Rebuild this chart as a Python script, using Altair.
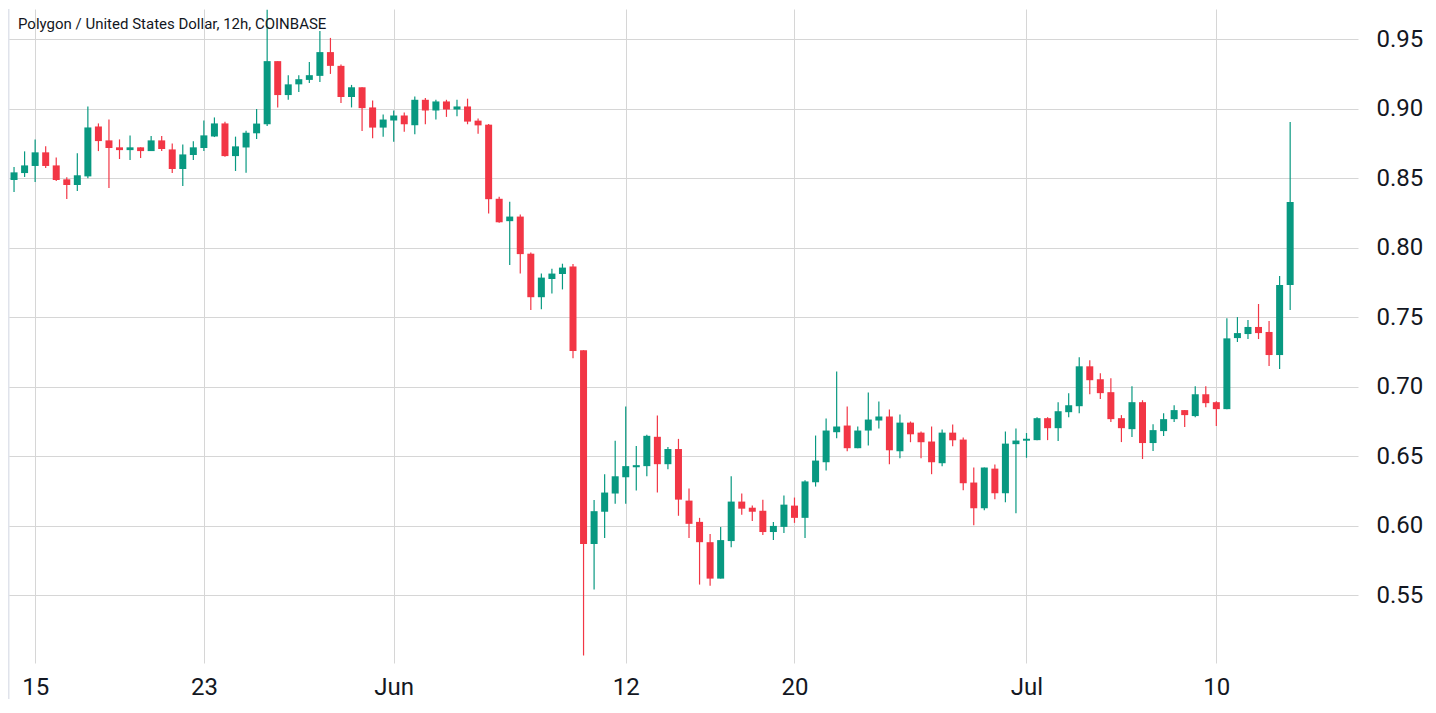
import altair as alt
import pandas as pd

# 12h candles, Polygon / USD (COINBASE), first candle 2023-05-14 00:00
start = "2023-05-14 00:00"
opens = [
    .8488, .8538, .8589, .8687, .8593, .8493, .8452, .8514, .8873, .8773,
    .8723, .8703, .8723, .8696, .8773, .8708, .8567, .8668, .8718, .8801,
    .8895, .8660, .8722, .8824, .8889, .9343, .9099, .9176, .9208, .9237,
    .9408, .9309, .9085, .9155, .9010, .8865, .8916, .8952, .8882, .9065,
    .8988, .9053, .8995, .9017, .8915, .8886, .8353, .8192, .8225, .7958,
    .7645, .7776, .7812, .7866, .7263, .5870, .6102, .6233, .6350, .6422,
    .6430, .6641, .6444, .6553, .6182, .6029, .5883, .5621, .5891, .6175,
    .6131, .6109, .5956, .5993, .6146, .6058, .6314, .6458, .6674, .6722,
    .6559, .6686, .6758, .6787, .6537, .6743, .6671, .6607, .6451, .6671,
    .6621, .6312, .6127, .6412, .6235, .6588, .6613, .6617, .6775, .6703,
    .6818, .6861, .7148, .7055, .6962, .6775, .6696, .6890, .6596, .6682,
    .6768, .6833, .6790, .6947, .6890, .6840, .7351, .7380, .7431, .7395,
    .7229, .7733,
]
highs = [
    .8582, .8694, .8780, .8730, .8650, .8507, .8680, .9017, .8895, .8923,
    .8780, .8809, .8723, .8804, .8804, .8751, .8744, .8766, .8916, .8938,
    .8907, .8800, .8842, .8998, .9713, .9343, .9242, .9242, .9336, .9560,
    .9510, .9319, .9172, .9155, .9060, .8959, .8988, .8973, .9089, .9077,
    .9065, .9065, .9065, .9073, .8930, .8890, .8368, .8332, .8240, .7966,
    .7815, .7850, .7886, .7884, .7263, .6186, .6371, .6612, .6859, .6575,
    .6655, .6794, .6568, .6626, .6269, .6058, .5942, .5993, .6357, .6233,
    .6146, .6189, .6029, .6218, .6204, .6328, .6650, .6772, .7110, .6859,
    .6715, .6959, .6894, .6837, .6801, .6751, .6679, .6715, .6693, .6729,
    .6636, .6420, .6420, .6441, .6679, .6700, .6668, .6782, .6782, .6890,
    .6955, .7213, .7191, .7098, .7062, .6797, .7005, .6904, .6732, .6811,
    .6868, .6833, .7005, .7005, .6897, .7493, .7502, .7481, .7596, .7474,
    .7797, .8905,
]
lows = [
    .8402, .8510, .8474, .8574, .8480, .8352, .8409, .8500, .8696, .8431,
    .8639, .8632, .8646, .8696, .8696, .8538, .8445, .8632, .8696, .8797,
    .8656, .8553, .8540, .8783, .8877, .9010, .9065, .9121, .9186, .9193,
    .9251, .9041, .9010, .8840, .8788, .8800, .8763, .8836, .8817, .8889,
    .8923, .8942, .8947, .8889, .8820, .8248, .8180, .7876, .7815, .7553,
    .7558, .7671, .7701, .7206, .5068, .5542, .5913, .6160, .6160, .6255,
    .6357, .6240, .6408, .6073, .5913, .5578, .5570, .5621, .5847, .6080,
    .6036, .5935, .5898, .5949, .6022, .5913, .6283, .6398, .6631, .6537,
    .6559, .6578, .6700, .6444, .6487, .6602, .6487, .6372, .6429, .6573,
    .6257, .6005, .6113, .6192, .6170, .6091, .6490, .6617, .6617, .6610,
    .6782, .6811, .6947, .6912, .6747, .6603, .6639, .6481, .6538, .6646,
    .6747, .6711, .6782, .6854, .6718, .6840, .7323, .7344, .7344, .7150,
    .7128, .7553,
]
closes = [
    .8543, .8593, .8687, .8589, .8488, .8452, .8522, .8866, .8768, .8718,
    .8703, .8723, .8696, .8773, .8711, .8567, .8672, .8723, .8809, .8895,
    .8660, .8730, .8828, .8894, .9343, .9099, .9176, .9213, .9242, .9408,
    .9309, .9085, .9155, .9005, .8865, .8923, .8952, .8889, .9065, .8988,
    .9053, .8995, .9017, .8908, .8881, .8350, .8184, .8225, .7955, .7645,
    .7786, .7815, .7858, .7258, .5870, .6106, .6240, .6357, .6430, .6437,
    .6648, .6444, .6553, .6189, .6015, .5883, .5621, .5898, .6175, .6124,
    .6102, .5956, .6000, .6153, .6058, .6320, .6470, .6686, .6715, .6559,
    .6686, .6765, .6787, .6544, .6743, .6659, .6602, .6458, .6671, .6616,
    .6307, .6127, .6420, .6235, .6592, .6614, .6627, .6775, .6703, .6825,
    .6868, .7148, .7048, .6955, .6768, .6703, .6890, .6596, .6689, .6768,
    .6833, .6797, .6947, .6883, .6840, .7349, .7387, .7431, .7387, .7229,
    .7733, .8330,
]

x_ticks = ["2023-05-15", "2023-05-23", "2023-06-01", "2023-06-12",
           "2023-06-20", "2023-07-01", "2023-07-10"]
y_ticks = [0.55, 0.60, 0.65, 0.70, 0.75, 0.80, 0.85, 0.90, 0.95]
title_text = "Polygon / United States Dollar, 12h, COINBASE"

UP = "#089981"
DOWN = "#F23645"
GRID = "#D6D6D6"
TEXT = "#131722"
FONT = "Roboto"

dates = pd.date_range(start, periods=len(opens), freq="12h")
df = pd.DataFrame({
    "date": dates.strftime("%Y-%m-%dT%H:%M:%S"),
    "open": opens, "high": highs, "low": lows, "close": closes,
})

def dt(s, h=0, m=0):
    y, mo, d = [int(v) for v in s.split("-")]
    return alt.DateTime(year=y, month=mo, date=d, hours=h, minutes=m)

x_scale = alt.Scale(domain=[dt("2023-05-13", 22, 49), dt("2023-07-16", 11, 30)])
y_scale = alt.Scale(domain=[0.5014, 0.9718], nice=False, zero=False)

x_axis = alt.Axis(
    values=[dt(s) for s in x_ticks],
    labelExpr="date(datum.value) == 1 ? timeFormat(datum.value, '%b') : timeFormat(datum.value, '%-d')",
    grid=True, gridColor=GRID, gridWidth=1, ticks=False, domain=False,
    labelFontSize=24, labelFont=FONT, labelColor=TEXT, labelPadding=12,
    labelFlush=False, labelOverlap=False, title=None,
)
y_axis = alt.Axis(
    orient="right", values=y_ticks, format=".2f",
    grid=True, gridColor=GRID, gridWidth=1, ticks=False, domain=False,
    labelFontSize=24, labelFont=FONT, labelColor=TEXT, labelPadding=18,
    labelBaseline="middle", title=None,
)

base = alt.Chart(df).transform_calculate(
    btop="max(datum.open, datum.close)",
).transform_calculate(
    bbot="min(min(datum.open, datum.close), datum.btop - 0.0008)",
)

color = alt.condition("datum.close >= datum.open", alt.value(UP), alt.value(DOWN))

wicks = base.mark_rule(strokeWidth=1.2).encode(
    x=alt.X("date:T", scale=x_scale, axis=x_axis),
    y=alt.Y("low:Q", scale=y_scale, axis=y_axis),
    y2="high:Q",
    color=color,
)
bodies = base.mark_bar(size=7).encode(
    x=alt.X("date:T", scale=x_scale),
    y=alt.Y("bbot:Q", scale=y_scale),
    y2="btop:Q",
    color=color,
)

border = alt.Chart(pd.DataFrame({"v": [0]})).mark_rule(
    color="#E0E3EB", strokeWidth=1.5
).encode(x=alt.value(0.75), y=alt.value(0), y2=alt.value(690))

title = alt.Chart(pd.DataFrame({"t": [title_text]})).mark_text(
    align="left", baseline="alphabetic", font=FONT, fontSize=15, color=TEXT
).encode(text="t:N", x=alt.value(10), y=alt.value(20))

chart = alt.layer(border, wicks, bodies, title).properties(
    width=1350, height=654, padding=0, background="white"
).configure_view(stroke=None)

chart.save("out.html", embed_options={"renderer": "svg", "actions": False})
